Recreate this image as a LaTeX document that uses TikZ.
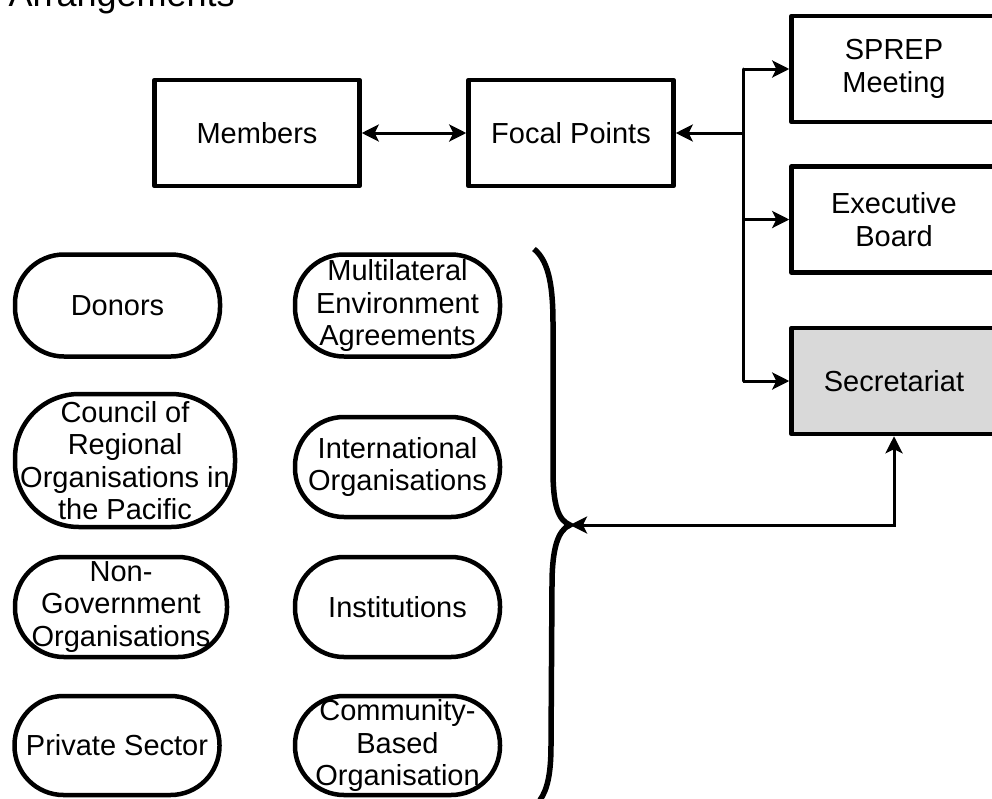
\documentclass[tikz,border=0pt]{standalone}
\usepackage{fontspec}
\setmainfont{Liberation Sans}
\usetikzlibrary{arrows.meta}
\tikzset{
  box/.style={draw, line width=4.5pt, line join=round, minimum width=205pt, minimum height=106pt, inner sep=0pt, align=center},
  pill/.style={draw, line width=4.5pt, rounded corners=49pt, minimum width=205pt, minimum height=102pt, inner sep=0pt, align=center},
  link/.style={line width=3pt, -{Stealth[length=17pt,width=17pt,inset=4pt]}},
  biglink/.style={line width=3pt, {Stealth[length=17pt,width=17pt,inset=4pt]}-{Stealth[length=17pt,width=17pt,inset=4pt]}}
}
\begin{document}
\begin{tikzpicture}[x=1pt,y=-1pt,font=\fontsize{29}{32.5}\selectfont]
    \useasboundingbox (0,0) rectangle (992,798);
    \clip (0,0) rectangle (992,798);
    \node[anchor=base west,font=\fontsize{36}{40}\selectfont] (title) at (5,6) {Arrangements};
    \node[box] (mem) at (257,133) {Members};
    \node[box] (foc) at (571,133) {Focal Points};
    \node[box] (spr) at (894,69) {SPREP\\Meeting};
    \node[box] (exe) at (894,219.5) {Executive\\Board};
    \node[box,fill=gray!30] (sec) at (894,381) {Secretariat};
    \node[pill] (don) at (117.5,305.5) {Donors};
    \node[pill,rounded corners=64pt,minimum width=220pt,minimum height=133pt] (crop) at (125,460.5) {Council of\\Regional\\Organisations in\\the Pacific};
    \node[pill,minimum width=212pt,minimum height=100pt] (ngo) at (121,607) {Non-\\Government\\Organisations};
    \node[pill,minimum height=99pt] (pri) at (117,745.5) {Private Sector};
    \node[pill] (mea) at (397.5,305.5) {Multilateral\\Environment\\Agreements};
    \node[pill,minimum height=100pt] (int) at (397.5,467) {International\\Organisations};
    \node[pill,minimum height=100pt] (ins) at (397.5,607) {Institutions};
    \node[pill,minimum height=99pt] (cbo) at (397.5,745.5) {Community-\\Based\\Organisation};
    \coordinate (busA) at (743,69);
    \coordinate (busF) at (743,133);
    \coordinate (busB) at (743,219.5);
    \coordinate (busC) at (743,381);
    \coordinate (tip) at (570,525);
    \draw[biglink] (mem) -- (foc);
    \draw[line width=3pt,line cap=round] (busA) -- (busC);
    \draw[link] (busF) -- (foc);
    \draw[link] (busA) -- (spr);
    \draw[link] (busB) -- (exe);
    \draw[link] (busC) -- (sec);
    \draw[biglink] (tip) -| (sec);
    \draw[line width=5.5pt] (534,249) .. controls (550,262) and (553,290) .. (553,325) -- (553,470)
        .. controls (553,505) and (558,520) .. (570,525) .. controls (558,530) and (552,548) .. (552,585)
        -- (551,745) .. controls (551,775) and (547,790) .. (540,800);
\end{tikzpicture}
\end{document}
